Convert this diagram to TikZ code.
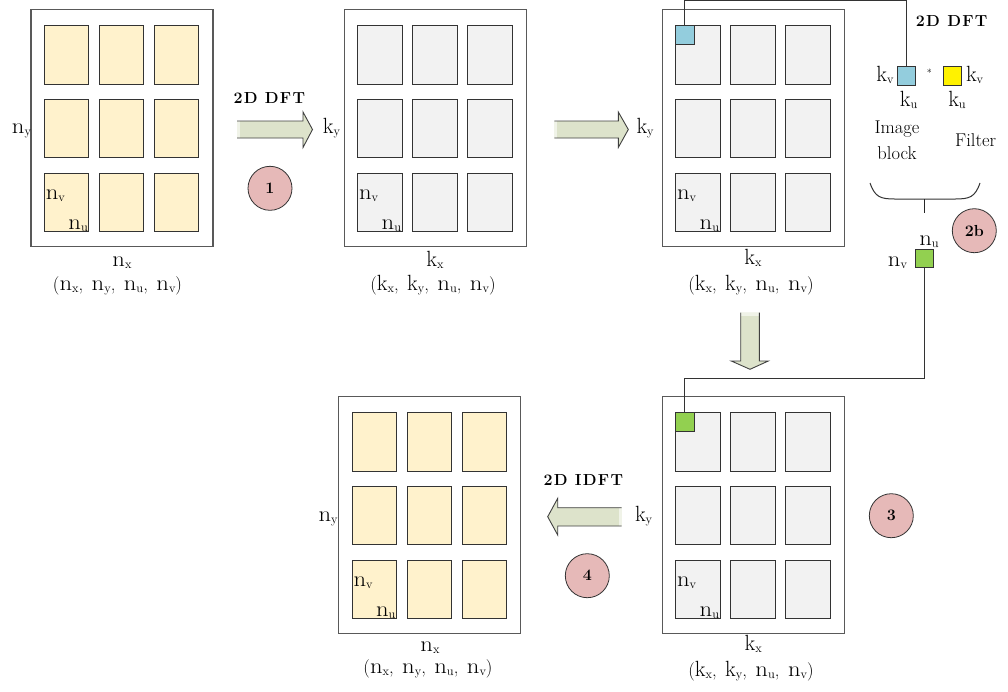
\documentclass[tikz,border=0pt]{standalone}
\usepackage{fontspec}
\usepackage{graphicx}
\setmainfont{Latin Modern Roman}
\usetikzlibrary{calc}
\definecolor{cellYc}{HTML}{FFF2CC}
\definecolor{cellGc}{HTML}{F2F2F2}
\definecolor{frameC}{HTML}{595959}
\definecolor{arrowF}{HTML}{DDE3CB}
\definecolor{circF}{HTML}{E6B9B8}
\definecolor{blueF}{HTML}{93CDDD}
\definecolor{greenF}{HTML}{92D050}
\newcommand\ix[2]{{\fontsize{22}{24}\selectfont\ifx n#1\scalebox{1.12}[1]{n}\else #1\fi}\raisebox{-2pt}{\fontsize{12.5}{13}\selectfont #2}}
\newcommand\tupl[4]{(#1,\hspace{8.5pt}#2,\hspace{8.5pt}#3,\hspace{8.5pt}#4)}
\tikzset{
  frame/.style={draw=frameC, line width=1.3pt, minimum width=182pt, minimum height=237pt, inner sep=0pt, outer sep=0pt},
  ycell/.style={draw=black!80, line width=1pt, fill=cellYc, minimum width=44.5pt, minimum height=58.7pt, inner sep=0pt, outer sep=0pt},
  gcell/.style={draw=black!80, line width=1pt, fill=cellGc, minimum width=44.5pt, minimum height=58.7pt, inner sep=0pt, outer sep=0pt},
  lbl/.style={font=\fontsize{18.5}{24}\selectfont, inner sep=0pt, outer sep=0pt},
  blbl/.style={font=\fontsize{16}{18}\selectfont\bfseries\addfontfeature{LetterSpace=8}, inner sep=0pt, outer sep=0pt},
  circ/.style={circle, draw=black!80, line width=0.8pt, fill=circF, minimum size=44pt, inner sep=0pt, font=\fontsize{16}{18}\selectfont\bfseries},
  sq/.style={draw=black!80, line width=0.8pt, minimum size=18.5pt, inner sep=0pt, outer sep=0pt},
  conn/.style={draw=black!80, line width=1pt},
  arrowline/.style={draw=black!75, line width=0.9pt, line join=miter},
}
% name, left, top, cell style
\newcommand\mypanel[4]{%
  \node[frame] (#1) at ({#2+91},{#3+118.5}) {};
  \foreach \c/\cx in {1/13.3,2/68.3,3/123.3}{
    \foreach \r/\ry in {1/16,2/89.5,3/163.5}{
      \node[#4, anchor=north west] (#1-\r-\c) at ({#2+\cx},{#3+\ry}) {};
    }
  }
  \node[lbl, anchor=base west] (#1-nv) at ($(#1-3-1.north west)+(1.5,26.5)$) {\ix{n}{v}};
  \node[lbl, anchor=base east] (#1-nu) at ($(#1-3-1.north east)+(-1,56.5)$) {\ix{n}{u}};
}
\begin{document}
\begin{tikzpicture}[x=1pt,y=-1pt]
\useasboundingbox (0,0) rectangle (1008,691);

% panels
\mypanel{P1}{31}{9.5}{ycell}
\mypanel{P2}{344.3}{9.5}{gcell}
\mypanel{P3}{662.3}{9.5}{gcell}
\mypanel{P4}{662.3}{396.7}{gcell}
\mypanel{P5}{338.7}{396.7}{ycell}

% axis labels
\node[lbl, anchor=base east] (ny1) at (31,133) {\ix{n}{y}};
\node[lbl, anchor=base] (nx1) at (122,266.5) {\ix{n}{x}};
\node[lbl, anchor=base] (t1) at (117.5,290) {\tupl{\ix{n}{x}}{\ix{n}{y}}{\ix{n}{u}}{\ix{n}{v}}};

\node[lbl, anchor=base east] (ky2) at (340,133) {\ix{k}{y}};
\node[lbl, anchor=base] (kx2) at (435,266.5) {\ix{k}{x}};
\node[lbl, anchor=base] (t2) at (433,290) {\tupl{\ix{k}{x}}{\ix{k}{y}}{\ix{n}{u}}{\ix{n}{v}}};

\node[lbl, anchor=base west] (ky3) at (636.5,133) {\ix{k}{y}};
\node[lbl, anchor=base] (kx3) at (753,264) {\ix{k}{x}};
\node[lbl, anchor=base] (t3) at (751,290) {\tupl{\ix{k}{x}}{\ix{k}{y}}{\ix{n}{u}}{\ix{n}{v}}};

\node[lbl, anchor=base west] (ky4) at (635,521.7) {\ix{k}{y}};
\node[lbl, anchor=base] (kx4) at (753.3,650) {\ix{k}{x}};
\node[lbl, anchor=base] (t4) at (751,676.5) {\tupl{\ix{k}{x}}{\ix{k}{y}}{\ix{n}{u}}{\ix{n}{v}}};

\node[lbl, anchor=base east] (ny5) at (337.7,521.7) {\ix{n}{y}};
\node[lbl, anchor=base] (nx5) at (430,651.5) {\ix{n}{x}};
\node[lbl, anchor=base] (t5) at (428,673.5) {\tupl{\ix{n}{x}}{\ix{n}{y}}{\ix{n}{u}}{\ix{n}{v}}};

% big arrows
\fill[arrowF] (237,121) -- (303,121) -- (303,112) -- (312.5,129.5) -- (303,147.5) -- (303,138) -- (237,138) -- cycle;
\fill[white!55!arrowF] (237,121) rectangle (240,138);
\draw[arrowline] (237,121) -- (303,121) -- (303,112) -- (312.5,129.5) -- (303,147.5) -- (303,138) -- (237,138);

\fill[arrowF] (554.3,121) -- (618.3,121) -- (618.3,112) -- (628.3,129.5) -- (618.3,147.5) -- (618.3,138) -- (554.3,138) -- cycle;
\fill[white!55!arrowF] (554.3,121) rectangle (557.3,138);
\draw[arrowline] (554.3,121) -- (618.3,121) -- (618.3,112) -- (628.3,129.5) -- (618.3,147.5) -- (618.3,138) -- (554.3,138);

\fill[arrowF] (740.7,312.7) -- (740.7,361) -- (731.3,361) -- (750,369.3) -- (768.3,361) -- (759.3,361) -- (759.3,312.7) -- cycle;
\fill[white!55!arrowF] (740.7,312.7) rectangle (759.3,315.5);
\draw[arrowline] (740.7,312.7) -- (740.7,361) -- (731.3,361) -- (750,369.3) -- (768.3,361) -- (759.3,361) -- (759.3,312.7);

\fill[arrowF] (621.7,507.7) -- (557.7,507.7) -- (557.7,498.3) -- (547.7,516.7) -- (557.7,535) -- (557.7,526) -- (621.7,526) -- cycle;
\fill[white!55!arrowF] (618.7,507.7) rectangle (621.7,526);
\draw[arrowline] (621.7,507.7) -- (557.7,507.7) -- (557.7,498.3) -- (547.7,516.7) -- (557.7,535) -- (557.7,526) -- (621.7,526);

\node[blbl, anchor=base] (dft1) at (269.3,103.3) {2D DFT};
\node[blbl, anchor=base] (idft) at (583.3,485) {2D IDFT};

% step circles
\node[circ] (c1) at (270,188.3) {1};
\node[circ] (c2b) at (974.3,230.7) {2b};
\node[circ] (c3) at (891.3,515.7) {3};
\node[circ] (c4) at (587.3,575.7) {4};

% filter detail
\node[blbl, anchor=base] (dft2) at (951.7,26.7) {2D DFT};
\node[sq, fill=blueF, anchor=north west] (bq) at (P3-1-1.north west) {};
\node[sq, fill=blueF] (bs) at (906.2,76) {};
\node[sq, fill=yellow] (ys) at (952.3,76) {};
\node[font=\fontsize{10}{12}\selectfont, inner sep=0pt] (star) at (929.3,73) {*};
\node[lbl, anchor=base east] (kvb) at (893.5,81.7) {\ix{k}{v}};
\node[lbl, anchor=base west] (kvy) at (966,81.7) {\ix{k}{v}};
\node[lbl, anchor=base] (kub) at (908.7,106.7) {\ix{k}{u}};
\node[lbl, anchor=base] (kuy) at (957,106.7) {\ix{k}{u}};
\node[lbl, anchor=base] (img1) at (897,133.3) {Image};
\node[lbl, anchor=base] (img2) at (897,159.3) {block};
\node[lbl, anchor=base] (filt) at (975.7,146.7) {Filter};

\draw[conn] (870,183) .. controls (875,197) and (880,199) .. (895,199) -- (955,199) .. controls (970,199) and (975,197) .. (980,183);
\draw[black!85, line width=1.6pt] (924.3,199) -- (924.3,213);

\node[sq, fill=greenF] (gs) at (924.2,258.5) {};
\node[lbl, anchor=base] (nug) at (929,245) {\ix{n}{u}};
\node[lbl, anchor=base east] (nvg) at (907,266.7) {\ix{n}{v}};
\node[sq, fill=greenF, anchor=north west] (gq) at (P4-1-1.north west) {};

% connectors
\draw[conn] (bq.north) -- ++(0,-25) -| (bs.north);
\draw[conn] (gs.south) -- ++(0,111) -| (gq.north);
\end{tikzpicture}
\end{document}
